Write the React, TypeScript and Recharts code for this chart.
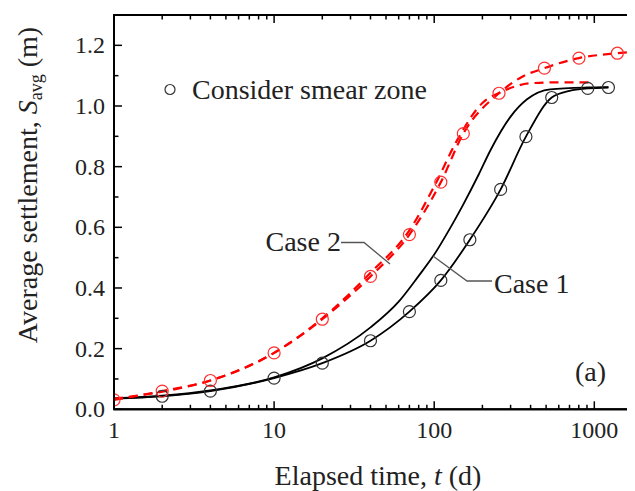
import React from 'react';
import {ComposedChart, Line, Scatter, XAxis, YAxis} from 'recharts';

const FONT = '"Liberation Serif", "Times New Roman", serif';

// Case 1, smear zone considered (solid, with markers)
const case1SmearT = [1, 2, 4, 10, 20, 40, 70, 110, 167, 260, 374, 542, 700, 910, 1225];
const case1SmearS = [0.036, 0.043, 0.06, 0.103, 0.152, 0.226, 0.322, 0.425, 0.559, 0.725, 0.899, 1.028, 1.05, 1.058, 1.061];

// Case 1, no smear zone (solid)
const case1T = [1, 2, 4, 10, 20, 40, 60, 80, 100, 125, 150, 190, 225, 300, 380, 530, 900, 1225];
const case1S = [0.036, 0.045, 0.062, 0.105, 0.168, 0.27, 0.355, 0.44, 0.51, 0.595, 0.67, 0.775, 0.855, 0.965, 1.022, 1.055, 1.061, 1.062];

// Case 2, smear zone considered (dashed, with markers)
const case2SmearT = [1, 2, 4, 10, 20, 40, 70, 110, 152, 254, 350, 488, 802, 1393, 1600];
const case2SmearS = [0.031, 0.06, 0.095, 0.186, 0.297, 0.438, 0.576, 0.749, 0.909, 1.042, 1.095, 1.125, 1.158, 1.174, 1.177];

// Case 2, no smear zone (dashed)
const case2T = [1, 2, 4, 10, 20, 40, 70, 100, 140, 200, 260, 400, 600, 1000];
const case2S = [0.035, 0.058, 0.095, 0.186, 0.3, 0.45, 0.59, 0.735, 0.89, 1.01, 1.045, 1.075, 1.078, 1.078];

// markers for the smear-zone results
const case1MarkT = [2, 4, 10, 20, 40, 70, 110, 167, 260, 374, 542, 910, 1225];
const case1MarkS = [0.043, 0.06, 0.103, 0.152, 0.226, 0.322, 0.425, 0.559, 0.725, 0.899, 1.028, 1.058, 1.061];
const case2MarkT = [1, 2, 4, 10, 20, 40, 70, 110, 152, 254, 488, 802, 1393];
const case2MarkS = [0.031, 0.06, 0.095, 0.186, 0.297, 0.438, 0.576, 0.749, 0.909, 1.042, 1.125, 1.158, 1.174];

const X_DOMAIN = [1, 2000];
const Y_DOMAIN = [0, 1.3];

const xMajor = [1, 10, 100, 1000];
const xTicks = [1, 2, 3, 4, 5, 6, 7, 8, 9, 10, 20, 30, 40, 50, 60, 70, 80, 90, 100, 200, 300, 400, 500, 600, 700, 800, 900, 1000, 2000];
const yTicks = [0, 0.1, 0.2, 0.3, 0.4, 0.5, 0.6, 0.7, 0.8, 0.9, 1.0, 1.1, 1.2, 1.3];

const CHART_W = 650;
const CHART_H = 491;
const MARGIN = {top: 15, right: 7.5, left: 54, bottom: 41.7};
const Y_AXIS_W = 60;
const X_AXIS_H = 40;
const PLOT_X = MARGIN.left + Y_AXIS_W;
const PLOT_Y = MARGIN.top;
const PLOT_W = CHART_W - MARGIN.left - MARGIN.right - Y_AXIS_W;
const PLOT_H = CHART_H - MARGIN.top - MARGIN.bottom - X_AXIS_H;

const MAJOR_LEN = 8;
const MINOR_LEN = 4.5;

const toPoints = (t: number[], s: number[]) => t.map((v, i) => ({t: v, s: s[i]}));

const isMajorY = (v: number) => Math.round(v * 10) % 2 === 0;

// same mapping as the chart's log x axis and linear y axis, used for the frame ticks
const xPx = (v: number) => PLOT_X + PLOT_W * Math.log10(v / X_DOMAIN[0]) / Math.log10(X_DOMAIN[1] / X_DOMAIN[0]);
const yPx = (v: number) => PLOT_Y + PLOT_H * (1 - (v - Y_DOMAIN[0]) / (Y_DOMAIN[1] - Y_DOMAIN[0]));

const BottomTick = (props: any) => {
    const {x, y, payload} = props;
    if (!xMajor.includes(payload.value)) return <g/>;
    return (
        <text x={x} y={y + 29} textAnchor="middle" fontSize={24} fontFamily={FONT} fill="#222">
            {payload.value}
        </text>
    );
};

const LeftTick = (props: any) => {
    const {x, y, payload} = props;
    if (!isMajorY(payload.value) || payload.value > 1.25) return <g/>;
    return (
        <text x={x - 9} y={y + 8} textAnchor="end" fontSize={24} fontFamily={FONT} fill="#222">
            {payload.value.toFixed(1)}
        </text>
    );
};

const OpenCircle = (color: string) => (props: any) => (
    <circle cx={props.cx} cy={props.cy} r={6} fill="none" stroke={color} strokeWidth={1.2}/>
);

const axisLine = {stroke: '#000', strokeWidth: 2};

const FrameTicks = () => {
    const bottom = PLOT_Y + PLOT_H;
    const right = PLOT_X + PLOT_W;
    return (
        <g stroke="#000" strokeWidth={1.5}>
            <rect x={PLOT_X} y={PLOT_Y} width={PLOT_W} height={PLOT_H} fill="none" strokeWidth={2}/>
            {xTicks.map(v => {
                const len = xMajor.includes(v) ? MAJOR_LEN : MINOR_LEN;
                const x = xPx(v);
                return (
                    <g key={`x${v}`}>
                        <line x1={x} x2={x} y1={bottom} y2={bottom - len}/>
                        <line x1={x} x2={x} y1={PLOT_Y} y2={PLOT_Y + len}/>
                    </g>
                );
            })}
            {yTicks.map(v => {
                const len = isMajorY(v) ? MAJOR_LEN : MINOR_LEN;
                const y = yPx(v);
                return (
                    <g key={`y${v}`}>
                        <line x1={PLOT_X} x2={PLOT_X + len} y1={y} y2={y}/>
                        <line x1={right} x2={right - len} y1={y} y2={y}/>
                    </g>
                );
            })}
        </g>
    );
};

export default function App() {
    const textStyle = {fontFamily: FONT, fill: '#222'};
    return (
        <div style={{position: 'relative', width: 635, height: 491, margin: '-8px 0 0 -8px', overflow: 'hidden'}}>
            <ComposedChart width={CHART_W} height={CHART_H} margin={MARGIN}>
                <XAxis dataKey="t" type="number" scale="log" domain={X_DOMAIN} allowDataOverflow ticks={xTicks}
                       interval={0} tickSize={0} tickMargin={0} height={X_AXIS_H} axisLine={axisLine} tickLine={false}
                       tick={BottomTick}/>
                <YAxis type="number" domain={Y_DOMAIN} allowDataOverflow ticks={yTicks} interval={0} tickSize={0}
                       tickMargin={0} width={Y_AXIS_W} axisLine={axisLine} tickLine={false} tick={LeftTick}/>

                <Line data={toPoints(case1T, case1S)} dataKey="s" type="monotone" stroke="#000" strokeWidth={1.8}
                      dot={false} isAnimationActive={false}/>
                <Line data={toPoints(case1SmearT, case1SmearS)} dataKey="s" type="monotone" stroke="#000"
                      strokeWidth={1.8} dot={false} isAnimationActive={false}/>
                <Line data={toPoints(case2T, case2S)} dataKey="s" type="monotone" stroke="#ff0000" strokeWidth={2.2}
                      strokeDasharray="9 6" dot={false} isAnimationActive={false}/>
                <Line data={toPoints(case2SmearT, case2SmearS)} dataKey="s" type="monotone" stroke="#ff0000"
                      strokeWidth={2.2} strokeDasharray="9 6" dot={false} isAnimationActive={false}/>

                <Scatter data={toPoints(case1MarkT, case1MarkS)} dataKey="s" shape={OpenCircle('#333')}
                         isAnimationActive={false}/>
                <Scatter data={toPoints(case2MarkT, case2MarkS)} dataKey="s" shape={OpenCircle('#ff3030')}
                         isAnimationActive={false}/>
            </ComposedChart>

            <svg width={CHART_W} height={CHART_H} style={{position: 'absolute', left: 0, top: 0, pointerEvents: 'none'}}>
                <FrameTicks/>

                {/* legend */}
                <circle cx={170} cy={89.5} r={5} fill="none" stroke="#333" strokeWidth={1.2}/>
                <text x={192} y={99} fontSize={28} {...textStyle}>Consider smear zone</text>

                {/* case labels with leaders */}
                <text x={265.5} y={251} fontSize={28} {...textStyle}>Case 2</text>
                <polyline points="341,242.5 364,242.5 390,264" fill="none" stroke="#555" strokeWidth={1.3}/>
                <text x={494} y={292.5} fontSize={28} {...textStyle}>Case 1</text>
                <polyline points="492,281 467,281 433,256" fill="none" stroke="#555" strokeWidth={1.3}/>

                <text x={575} y={381} fontSize={28} {...textStyle}>(a)</text>

                {/* axis titles */}
                <text x={378} y={485} fontSize={28} textAnchor="middle" {...textStyle}>
                    Elapsed time, <tspan fontStyle="italic">t</tspan> (d)
                </text>
                <text x={37} y={185} fontSize={28} textAnchor="middle" transform="rotate(-90 37 185)" {...textStyle}>
                    Average settlement, <tspan fontStyle="italic">S</tspan>
                    <tspan fontSize={18} dy={5}>avg</tspan>
                    <tspan dy={-5}> (m)</tspan>
                </text>
            </svg>
        </div>
    );
}
